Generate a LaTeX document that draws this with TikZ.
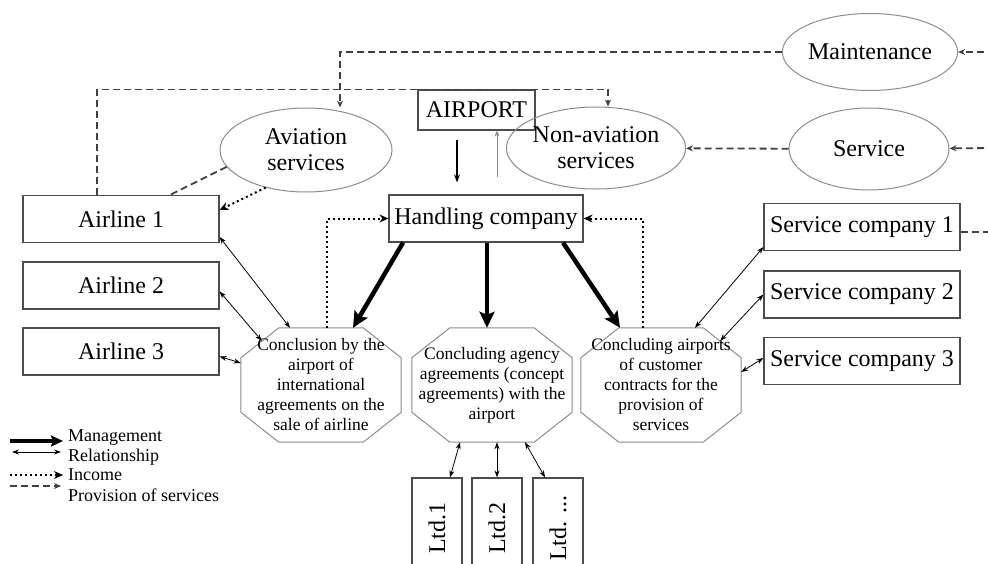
\documentclass[tikz,border=0pt]{standalone}
\usepackage{fontspec}
\setmainfont{Liberation Serif}
\usepackage{graphicx}
\usetikzlibrary{shapes.geometric,arrows.meta}

\tikzstyle{box} = [rectangle, minimum width=196pt, minimum height=47pt, inner sep=0pt, text centered, draw=black!70, line width=1.2pt, font=\fontsize{24}{27}\selectfont]
\tikzstyle{oval} = [ellipse, minimum width=172pt, minimum height=84pt, inner sep=0pt, align=center, draw=black!45, line width=1pt, font=\fontsize{24}{26}\selectfont]
\tikzstyle{octa} = [rectangle, minimum width=160pt, minimum height=114pt, inner sep=0pt, align=center, font=\fontsize{17.5}{20}\selectfont,
	append after command={\pgfextra{\draw [draw=black!45, line width=1pt]
		([xshift=38pt]\tikzlastnode.north west) -- ([xshift=-38pt]\tikzlastnode.north east) -- ([yshift=-30pt]\tikzlastnode.north east) -- ([yshift=30pt]\tikzlastnode.south east) -- ([xshift=-38pt]\tikzlastnode.south east) -- ([xshift=38pt]\tikzlastnode.south west) -- ([yshift=30pt]\tikzlastnode.south west) -- ([yshift=-30pt]\tikzlastnode.north west) -- cycle;}}]
\tikzstyle{ltdbox} = [rectangle, minimum width=50pt, minimum height=100pt, inner sep=0pt, draw=black!70, line width=1.2pt, font=\fontsize{24}{27}\selectfont]
\tikzstyle{legendtext} = [inner sep=0pt, anchor=base west, font=\fontsize{18}{20}\selectfont]
\tikzstyle{manage} = [line width=4.5pt, -{Stealth[length=16pt,width=15pt,inset=3pt]}]
\tikzstyle{relation} = [line width=0.8pt, {Stealth[length=7pt,width=5pt]}-{Stealth[length=7pt,width=5pt]}]
\tikzstyle{income} = [line width=2pt, dash pattern=on 2pt off 3pt, -{Stealth[length=9pt,width=8pt]}]
\tikzstyle{provide} = [line width=1.8pt, draw=black!75, dash pattern=on 7pt off 4pt, -{Stealth[length=7pt,width=6pt]}]
\tikzstyle{arrow} = [line width=1.2pt, -{Stealth[length=8pt,width=6pt]}]
\tikzstyle{thinarrow} = [line width=0.8pt, draw=black!45, -{Stealth[length=6pt,width=5pt]}]

\begin{document}
\begin{tikzpicture}[x=1pt, y=-1pt]
\useasboundingbox (0,0) rectangle (988,563);

	\node (airport) [box, minimum width=117pt, minimum height=40pt] at (476.5,110) {AIRPORT};
	\node (hand) [box, minimum width=194pt] at (486,218.5) {Handling company};
	
	\node (air1) [box] at (121,219) {Airline 1};
	\node (air2) [box] at (121,285.5) {Airline 2};
	\node (air3) [box] at (121,351.5) {Airline 3};
	
	\node (svc1) [box] at (862,227) {Service company 1};
	\node (svc2) [box] at (862,294.5) {Service company 2};
	\node (svc3) [box] at (862,361) {Service company 3};
	
	\node (avia) [oval] at (306,150) {Aviation\\services};
	\node (nonav) [oval, minimum height=82pt] at (596,148) {Non-aviation\\services};
	\node (maint) [oval, minimum width=161pt, minimum height=77pt] at (870,52) {Maintenance};
	\node (serv) [oval, minimum width=160pt, minimum height=82pt] at (869,149) {Service};
	
	\node (oct1) [octa] at (321,385) {
		Conclusion by the\\
		airport of\\
		international\\
		agreements on the\\
		sale of airline
	};
	\node (oct2) [octa] at (492,385) {
		Concluding agency\\
		agreements (concept\\
		agreements) with the\\
		airport
	};
	\node (oct3) [octa] at (661,385) {
		Concluding airports\\
		of customer\\
		contracts for the\\
		provision of\\
		services
	};
	
	\node (ltd1) [ltdbox] at (437,528) {\rotatebox{90}{Ltd.1}};
	\node (ltd2) [ltdbox] at (497,528) {\rotatebox{90}{Ltd.2}};
	\node (ltd3) [ltdbox] at (558,528) {\rotatebox{90}{Ltd. ...}};
	
	% free ends on the right edge
	\coordinate (mR) at (995,52);
	\coordinate (sR) at (995,148);
	\coordinate (cR) at (995,232);
	
	% provision of services
	\draw [provide] (mR) -- (maint);
	\draw [provide] (maint.west) -| ([xshift=34pt]avia.north);
	\draw [provide] ([xshift=-24pt]air1.north) |- ([xshift=12pt,yshift=17pt]nonav.north) -- ([xshift=12pt]nonav.north);
	\draw [provide] (sR) -- (serv);
	\draw [provide] (serv) -- (nonav);
	\draw [provide, -] ([yshift=-5pt]svc1.east) -- (cR);
	\draw [provide, -] (avia.192) -- ([xshift=49pt]air1.north);
	
	% income
	\draw [income] (avia.223) -- ([yshift=9pt]air1.east);
	\draw [income] ([xshift=6pt]oct1.north) |- (hand.west);
	\draw [income] ([xshift=-18pt]oct3.north) |- (hand.east);
	
	% airport
	\draw [arrow, shorten <=9pt, shorten >=12pt] ([xshift=-19.5pt]airport.south) -- ([xshift=-29pt]hand.north);
	\draw [thinarrow, shorten <=17pt] ([xshift=11pt]hand.north) -- ([xshift=20.5pt]airport.south);
	
	% management
	\draw [manage] ([xshift=-83pt]hand.south) -- ([xshift=32pt]oct1.north);
	\draw [manage] ([xshift=1pt]hand.south) -- ([xshift=-5pt]oct2.north);
	\draw [manage] ([xshift=77pt]hand.south) -- ([xshift=-41pt]oct3.north);
	
	% relationship
	\draw [relation] ([yshift=-18pt]air1.east) -- ([xshift=-31pt]oct1.north);
	\draw [relation] ([yshift=-6pt]air2.east) -- ([xshift=21pt,yshift=-13pt]oct1.north west);
	\draw [relation] ([yshift=-5pt]air3.east) -- ([yshift=22pt]oct1.west);
	\draw [relation] ([yshift=-20pt]svc1.west) -- ([xshift=34pt]oct3.north);
	\draw [relation] (svc2.west) -- ([xshift=-21pt,yshift=-13pt]oct3.north east);
	\draw [relation] ([yshift=3pt]svc3.west) -- ([yshift=13pt]oct3.east);
	\draw [relation] ([xshift=-32pt]oct2.south) -- ([xshift=13pt]ltd1.north);
	\draw [relation] ([xshift=5pt]oct2.south) -- (ltd2.north);
	\draw [relation] ([xshift=33pt]oct2.south) -- ([xshift=-13pt]ltd3.north);
	
	% legend
	\coordinate (lg1a) at (10,441); \coordinate (lg1b) at (63,441);
	\coordinate (lg2a) at (12,452); \coordinate (lg2b) at (61,452);
	\coordinate (lg3a) at (10,475); \coordinate (lg3b) at (63,475);
	\coordinate (lg4a) at (10,486); \coordinate (lg4b) at (61,486);
	\draw [manage, line width=3.5pt, -{Stealth[length=12pt,width=11pt,inset=2pt]}] (lg1a) -- (lg1b);
	\draw [relation] (lg2a) -- (lg2b);
	\draw [income] (lg3a) -- (lg3b);
	\draw [provide] (lg4a) -- (lg4b);
	\node (lgman) [legendtext] at (68,441) {Management};
	\node (lgrel) [legendtext] at (68,461) {Relationship};
	\node (lginc) [legendtext] at (68,480) {Income};
	\node (lgpro) [legendtext] at (68,501) {Provision of services};
	
\end{tikzpicture}
\end{document}
